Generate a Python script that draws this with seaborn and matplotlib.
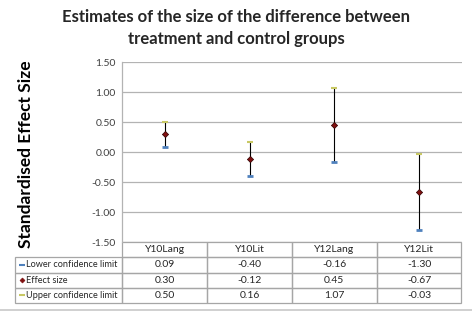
import seaborn as sns
import pandas as pd
import matplotlib.pyplot as plt
from matplotlib.lines import Line2D

categories = ['Y10Lang', 'Y10Lit', 'Y12Lang', 'Y12Lit']
lower = [0.09, -0.40, -0.16, -1.30]
effect = [0.30, -0.12, 0.45, -0.67]
upper = [0.50, 0.16, 1.07, -0.03]
row_names = ['Lower confidence limit', 'Effect size', 'Upper confidence limit']
y_ticks = [-1.5, -1.0, -0.5, 0.0, 0.5, 1.0, 1.5]

df = pd.DataFrame({'group': categories, 'lower': lower, 'effect': effect, 'upper': upper})
df['pos'] = range(len(df))

sns.set_style('white')
plt.rcParams['font.family'] = ['Lato', 'DejaVu Sans']

W, H = 472, 313
fig = plt.figure(figsize=(W / 100, H / 100), dpi=100)
# plot area in pixels: left 122.5, top 62, right 461.5, bottom 242
ax = fig.add_axes([122.5 / W, 1 - 242 / H, 339 / W, 180 / H])

grid_col = '#b3b3b3'
low_col = '#4f81bd'
up_col = '#c8c864'
eff_col = '#7f1010'

ax.vlines(df['pos'], df['lower'], df['upper'], color='black', lw=0.8, zorder=3)
sns.scatterplot(data=df, x='pos', y='lower', marker='_', s=22, color=low_col,
                linewidth=2, ax=ax, zorder=4)
sns.scatterplot(data=df, x='pos', y='upper', marker='_', s=14, color=up_col,
                linewidth=1.5, ax=ax, zorder=4)
sns.scatterplot(data=df, x='pos', y='effect', marker='D', s=10, color=eff_col,
                edgecolor='#300000', linewidth=0.5, ax=ax, zorder=5)

ax.set_xlim(-0.5, 3.5)
ax.set_ylim(-1.5, 1.5)
ax.set_yticks(y_ticks)
ax.set_yticklabels([f'{v:.2f}' for v in y_ticks], fontsize=7.5, color='#404040')
ax.set_xticks([])
ax.set_xlabel('')
ax.set_ylabel('Standardised Effect Size', fontsize=12.5, fontweight='bold', color='black')
ax.yaxis.set_label_coords((34 - 122.5) / 339, 0.49)
ax.tick_params(axis='y', length=0, pad=5)
for v in y_ticks:
    ax.axhline(v, color=grid_col, lw=0.9, zorder=1)
for s in ['top', 'right', 'bottom']:
    ax.spines[s].set_visible(False)
ax.spines['left'].set_color(grid_col)
ax.spines['left'].set_linewidth(0.9)

# data table below the plot area
cell_text = [[''] + categories]
for name, vals in zip(row_names, [lower, effect, upper]):
    cell_text.append([name] + [f'{v:.2f}' for v in vals])
left_ax = (15 - 122.5) / 339
tab_h = (303 - 242) / 180
lab_w = -left_ax
col_w = [lab_w] + [0.25] * 4
tab = ax.table(cellText=cell_text, colWidths=col_w, cellLoc='center',
               bbox=[left_ax, -tab_h, 1 - left_ax, tab_h])
tab.auto_set_font_size(False)
tab.set_fontsize(7.5)
for (r, c), cell in tab.get_celld().items():
    cell.set_edgecolor('#a6a6a6')
    cell.set_facecolor('none')
    cell.set_linewidth(0.9)
    cell.get_text().set_color('#262626')
    if c == 0:
        cell._loc = 'left'
        cell.get_text().set_ha('left')
        cell.get_text().set_fontsize(6.6)
        cell.PAD = 0.105
    if r == 0 and c == 0:
        cell.set_linewidth(0)

# legend keys in the table
key_x = (22 - 122.5) / 339
row_h = tab_h / 4
for i, (m, col, sz) in enumerate([('_', low_col, 5), ('D', eff_col, 2.5), ('_', up_col, 4)]):
    y = -row_h * (i + 1.5)
    ax.plot([key_x], [y], marker=m, color=col, ms=sz, mew=1.5 if m == '_' else 0.5,
            transform=ax.transAxes, clip_on=False)

fig.suptitle('Estimates of the size of the difference between\ntreatment and control groups',
             fontsize=12, fontweight='bold', y=1 - 9 / H, x=0.5, linespacing=1.45)
fig.add_artist(Line2D([0, 1], [1 - 309.5 / H] * 2, color='#c8c8c8', lw=1.2))

fig.savefig('out.png', dpi=100)
